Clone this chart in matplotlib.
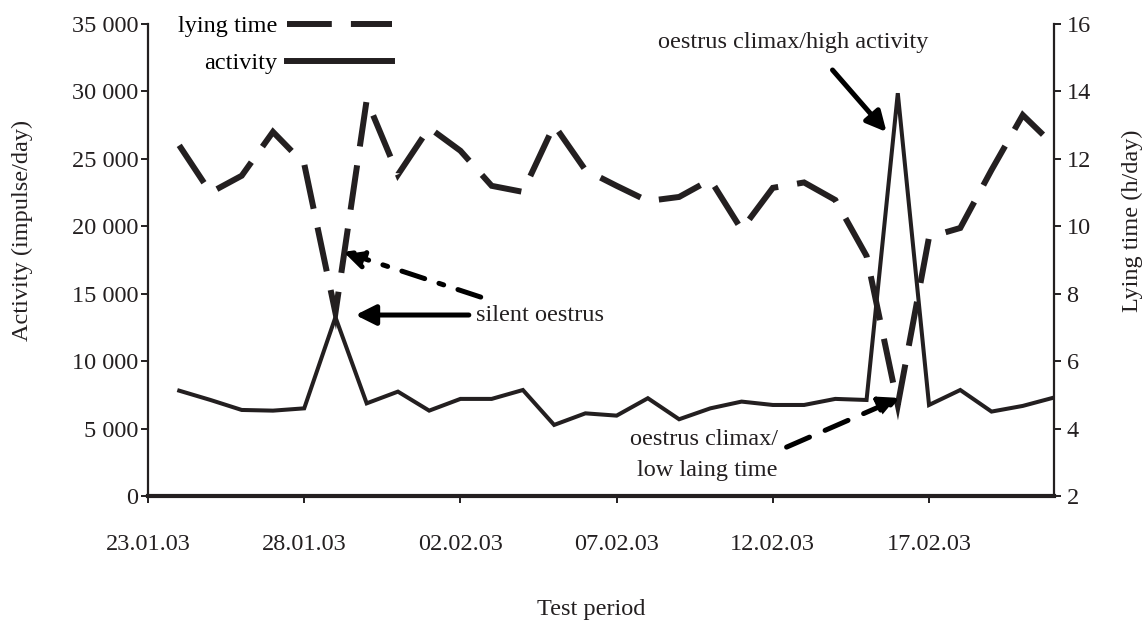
import matplotlib
matplotlib.use("Agg")
import matplotlib.pyplot as plt
import matplotlib.dates as mdates
from matplotlib.lines import Line2D
from datetime import datetime, timedelta

# ---------------- data ----------------
dates = ["24.01.03", "25.01.03", "26.01.03", "27.01.03", "28.01.03", "29.01.03",
         "30.01.03", "31.01.03", "01.02.03", "02.02.03", "03.02.03", "04.02.03",
         "05.02.03", "06.02.03", "07.02.03", "08.02.03", "09.02.03", "10.02.03",
         "11.02.03", "12.02.03", "13.02.03", "14.02.03", "15.02.03", "16.02.03",
         "17.02.03", "18.02.03", "19.02.03", "20.02.03", "21.02.03"]
activity = [7810, 7120, 6380, 6330, 6500, 13260, 6870, 7740, 6330, 7200,
            7200, 7860, 5270, 6130, 5960, 7250, 5690, 6500, 7000, 6750,
            6750, 7200, 7120, 29870, 6750, 7860, 6260, 6680, 7300]
lying = [12.4, 11.0, 11.5, 12.8, 11.85, 7.43, 13.75, 11.53, 12.92, 12.24,
         11.2, 11.02, 13.0, 11.67, 11.2, 10.75, 10.87, 11.38, 9.9, 11.14,
         11.3, 10.78, 9.12, 4.7, 9.68, 9.95, 11.67, 13.3, 12.4]
x_start = "23.01.03"
x_ticklabels = ["23.01.03", "28.01.03", "02.02.03", "07.02.03", "12.02.03", "17.02.03"]
act_ticks = [0, 5000, 10000, 15000, 20000, 25000, 30000, 35000]
act_ticklabels = ["0", "5 000", "10 000", "15 000", "20 000", "25 000", "30 000", "35 000"]
lying_ticks = [2, 4, 6, 8, 10, 12, 14, 16]

# ---------------- style ----------------
C = "#231f20"
FS = 17.5
plt.rcParams["font.family"] = ["Liberation Serif", "DejaVu Serif"]
plt.rcParams["font.size"] = FS


def D(s, off=0.0):
    return mdates.date2num(datetime.strptime(s, "%d.%m.%y") + timedelta(days=off))


x = [D(s) for s in dates]

fig = plt.figure(figsize=(11.46, 6.23), dpi=100)
ax = fig.add_axes([148 / 1146, 1 - 496 / 623, (1054 - 148) / 1146, (496 - 24) / 623])
ax2 = ax.twinx()

ax.plot(x, activity, color=C, lw=2.9, solid_joinstyle="miter", zorder=3)
ax2.plot(x, lying, color=C, lw=4.3, linestyle=(0, (7.5, 3.2)),
         dash_joinstyle="miter", dash_capstyle="butt", zorder=3)

ax.set_xlim(D(x_start), x[-1])
ax.set_ylim(0, 35000)
ax2.set_ylim(2, 16)

ax.set_xticks([D(s) for s in x_ticklabels])
ax.set_xticklabels(x_ticklabels)
ax.set_yticks(act_ticks)
ax.set_yticklabels(act_ticklabels)
ax2.set_yticks(lying_ticks)
ax2.set_yticklabels([str(v) for v in lying_ticks])

for a in (ax, ax2):
    a.patch.set_visible(False)
    a.spines["top"].set_visible(False)
ax.spines["right"].set_visible(False)
ax2.spines["left"].set_visible(False)
ax2.spines["bottom"].set_visible(False)
ax.spines["left"].set_linewidth(1.6)
ax.spines["bottom"].set_linewidth(3.0)
ax2.spines["right"].set_linewidth(1.6)
for s in ("left", "bottom"):
    ax.spines[s].set_color(C)
ax2.spines["right"].set_color(C)

ax.tick_params(axis="y", direction="out", length=5, width=1.4, color=C, pad=2,
               labelsize=FS, labelcolor=C)
ax.tick_params(axis="x", direction="out", length=5, width=1.4, color=C, pad=22,
               labelsize=FS, labelcolor=C)
ax2.tick_params(axis="y", direction="out", length=5, width=1.4, color=C, pad=4,
                labelsize=FS, labelcolor=C)

fig.text(22 / 1146, 1 - 230 / 623, "Activity (impulse/day)", rotation=90,
         ha="center", va="center", fontsize=FS, color=C)
fig.text(1132 / 1146, 1 - 221 / 623, "Lying time (h/day)", rotation=90,
         ha="center", va="center", fontsize=FS, color=C)
fig.text(591 / 1146, 1 - 610 / 623, "Test period", ha="center", va="center",
         fontsize=FS, color=C)

# legend
h1 = Line2D([], [], color=C, lw=4.3, linestyle=(0, (7.5, 3.2)))
h2 = Line2D([], [], color=C, lw=4.3)
ax2.legend([h1, h2], ["lying time", "activity"], loc="upper left",
           bbox_to_anchor=(178 / 1146, 1 - 15 / 623), bbox_transform=fig.transFigure,
           frameon=False, markerfirst=False, handlelength=4.3, handletextpad=0.4,
           labelspacing=0.62, borderpad=0, borderaxespad=0, fontsize=FS)

# annotations
K = "black"
head = dict(mutation_scale=1, shrinkA=0, shrinkB=0, color=K)

ax.annotate("", xy=(D(x_start, 6.64), 13420), xytext=(D(x_start, 10.27), 13420),
            arrowprops=dict(arrowstyle="-|>,head_length=12,head_width=6", lw=3.6, **head),
            zorder=5)
ax.text(D(x_start, 10.49), 13420, "silent oestrus", ha="left", va="center",
        fontsize=FS, color=C)

ax2.annotate("", xy=(D(x_start, 6.26), 9.24), xytext=(D(x_start, 10.65), 7.90),
             arrowprops=dict(arrowstyle="-|>,head_length=12,head_width=6", lw=3.6,
                             linestyle=(0, (4.8, 3.0, 1.0, 3.0)), **head), zorder=5)

ax.annotate("", xy=(D(x_start, 23.64), 26990), xytext=(D(x_start, 21.91), 31590),
            arrowprops=dict(arrowstyle="-|>,head_length=12,head_width=6", lw=3.6, **head),
            zorder=5)
ax.text(D(x_start, 20.66), 33660, "oestrus climax/high activity", ha="center",
        va="center", fontsize=FS, color=C)

ax2.annotate("", xy=(D(x_start, 24.06), 4.91), xytext=(D(x_start, 20.44), 3.45),
             arrowprops=dict(arrowstyle="-|>,head_length=12,head_width=6", lw=3.6,
                             linestyle=(0, (5.0, 3.4)), **head), zorder=5)
ax2.text(D(x_start, 20.15), 3.22, "oestrus climax/\nlow laing time", ha="right",
         va="center", multialignment="right", linespacing=1.6, fontsize=FS, color=C)

fig.savefig("out.png", dpi=100)
